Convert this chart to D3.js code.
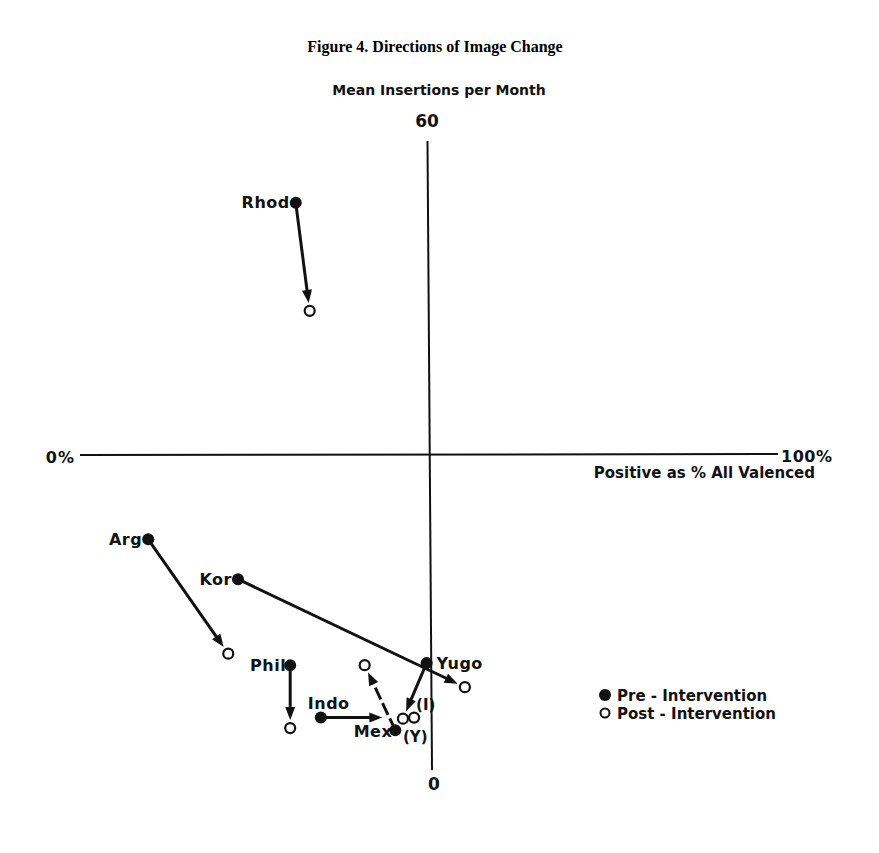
<!DOCTYPE html>
<html>
<head>
<meta charset="utf-8">
<script src="https://cdn.jsdelivr.net/npm/d3@7"></script>
<style>
  html, body { margin: 0; padding: 0; background: #fff; }
  svg { display: block; }
  .lbl { font-family: "DejaVu Sans", sans-serif; font-weight: bold; fill: #111; }
</style>
</head>
<body>
<svg id="chart" width="879" height="853"></svg>
<script>
// ---- data ----
const countries = ["Rhod", "Arg", "Kor", "Phil", "Indo", "Mex", "Yugo"];
const preX  = [31.0,  9.8, 22.7, 30.2, 34.6, 45.3, 49.8];
const preY  = [54.1, 22.0, 18.2, 10.0,  5.0,  3.8, 10.2];
const postX = [33.0, 21.3, 55.3, 30.2, 48.0, 40.9, 46.4];
const postY = [43.8, 11.1,  7.9,  4.0,  5.0, 10.0,  4.9];
const dashedMove = [false, false, false, false, false, true, false];
const arrowStopFrac = [1, 1, 1, 1, 0.66, 1, 1];   // Indo arrow stops short of its circle
const postTags = ["", "", "", "", "(I)", "", "(Y)"];
const xDomain = [0, 100];
const yDomain = [0, 60];
const xTickLabels = ["0%", "100%"];
const yTickLabels = ["0", "60"];
const titleText = "Figure 4. Directions of Image Change";
const yTitle = "Mean Insertions per Month";
const xTitle = "Positive as % All Valenced";
const legendItems = ["Pre - Intervention", "Post - Intervention"];

// ---- layout (styles, not data) ----
const labelLayout = {
  Rhod: {dx: -6, dy: 5, anchor: "end"},
  Arg:  {dx: -6, dy: 6, anchor: "end"},
  Kor:  {dx: -6, dy: 6, anchor: "end"},
  Phil: {dx: -4, dy: 6, anchor: "end"},
  Indo: {dx: -13, dy: -9, anchor: "start"},
  Mex:  {dx: -3, dy: 7, anchor: "end"},
  Yugo: {dx: 10, dy: 6, anchor: "start"}
};
const tagLayout = {
  Indo: {dx: 2, dy: -8},
  Yugo: {dx: 0, dy: 23}
};

const svg = d3.select("#chart");
const x = d3.scaleLinear().domain(xDomain).range([80, 776]);
const y = d3.scaleLinear().domain(yDomain).range([770, 141]);

// title
svg.append("text")
  .attr("x", 435).attr("y", 52)
  .attr("text-anchor", "middle")
  .style("font-family", "'Liberation Serif', 'Times New Roman', serif")
  .style("font-weight", "bold")
  .style("font-size", "16px")
  .text(titleText);

// axes
const midX = (xDomain[0] + xDomain[1]) / 2;
const midY = (yDomain[0] + yDomain[1]) / 2;
svg.append("line")
  .attr("x1", x(xDomain[0])).attr("x2", x(xDomain[1]) + 2)
  .attr("y1", y(midY) - 0.5).attr("y2", y(midY) - 1.5)
  .attr("stroke", "#111").attr("stroke-width", 2);
svg.append("line")
  .attr("x1", x(midX) - 0.5).attr("x2", x(midX) + 4)
  .attr("y1", y(yDomain[1])).attr("y2", y(yDomain[0]))
  .attr("stroke", "#111").attr("stroke-width", 2);

// axis end labels
svg.append("text").attr("class", "lbl")
  .attr("x", x(xDomain[0]) - 5).attr("y", y(midY) + 7)
  .attr("text-anchor", "end").style("font-size", "16px")
  .style("letter-spacing", "1px")
  .text(xTickLabels[0]);
svg.append("text").attr("class", "lbl")
  .attr("x", x(xDomain[1]) + 5).attr("y", y(midY) + 6)
  .attr("text-anchor", "start").style("font-size", "16px")
  .style("letter-spacing", "0.5px")
  .text(xTickLabels[1]);
svg.append("text").attr("class", "lbl")
  .attr("x", x(xDomain[1]) + 39).attr("y", y(midY) + 22)
  .attr("text-anchor", "end").style("font-size", "15px")
  .text(xTitle);
svg.append("text").attr("class", "lbl")
  .attr("x", x(midX) - 1).attr("y", y(yDomain[1]) - 14)
  .attr("text-anchor", "middle").style("font-size", "17px")
  .text(yTickLabels[1]);
svg.append("text").attr("class", "lbl")
  .attr("x", x(midX) + 6).attr("y", y(yDomain[0]) + 20)
  .attr("text-anchor", "middle").style("font-size", "17px")
  .text(yTickLabels[0]);
svg.append("text").attr("class", "lbl")
  .attr("x", 439).attr("y", y(yDomain[1]) - 46)
  .attr("text-anchor", "middle").style("font-size", "14px")
  .text(yTitle);

// movements
const data = countries.map((c, i) => ({
  name: c, x0: preX[i], y0: preY[i], x1: postX[i], y1: postY[i],
  dashed: dashedMove[i], stop: arrowStopFrac[i], tag: postTags[i]
}));

const gMoves = svg.append("g");
data.forEach(d => {
  const px0 = x(d.x0), py0 = y(d.y0), px1 = x(d.x1), py1 = y(d.y1);
  const dx = px1 - px0, dy = py1 - py0;
  const len = Math.hypot(dx, dy);
  const ux = dx / len, uy = dy / len;
  const tipDist = d.stop < 1 ? len * d.stop : len - 8;
  const tx = px0 + ux * tipDist, ty = py0 + uy * tipDist;
  const headLen = 13, headHalf = 5;
  const bx = tx - ux * headLen, by = ty - uy * headLen;
  gMoves.append("line")
    .attr("x1", px0).attr("y1", py0).attr("x2", bx + ux * 2).attr("y2", by + uy * 2)
    .attr("stroke", "#111").attr("stroke-width", 3)
    .attr("stroke-dasharray", d.dashed ? "13,4" : null);
  gMoves.append("path")
    .attr("d", `M${tx},${ty}L${bx - uy * headHalf},${by + ux * headHalf}L${bx + uy * headHalf},${by - ux * headHalf}Z`)
    .attr("fill", "#111");
});

// post circles
svg.append("g").selectAll("circle").data(data).join("circle")
  .attr("cx", d => x(d.x1)).attr("cy", d => y(d.y1))
  .attr("r", 5).attr("fill", "#fff")
  .attr("stroke", "#111").attr("stroke-width", 2.2);

// pre dots
svg.append("g").selectAll("circle").data(data).join("circle")
  .attr("cx", d => x(d.x0)).attr("cy", d => y(d.y0))
  .attr("r", 6).attr("fill", "#111");

// labels
svg.append("g").selectAll("text").data(data).join("text")
  .attr("class", "lbl")
  .attr("x", d => x(d.x0) + labelLayout[d.name].dx)
  .attr("y", d => y(d.y0) + labelLayout[d.name].dy)
  .attr("text-anchor", d => labelLayout[d.name].anchor)
  .style("font-size", "16px")
  .style("letter-spacing", "0.5px")
  .text(d => d.name);

svg.append("g").selectAll("text").data(data.filter(d => d.tag)).join("text")
  .attr("class", "lbl")
  .attr("x", d => x(d.x1) + tagLayout[d.name].dx)
  .attr("y", d => y(d.y1) + tagLayout[d.name].dy)
  .style("font-size", "15px")
  .text(d => d.tag);

// legend
const leg = svg.append("g").attr("transform", "translate(605,695)");
legendItems.forEach((t, i) => {
  const gy = i * 18;
  leg.append("circle").attr("cx", 0).attr("cy", gy)
    .attr("r", i === 0 ? 6 : 4.5)
    .attr("fill", i === 0 ? "#111" : "#fff")
    .attr("stroke", "#111").attr("stroke-width", i === 0 ? 0 : 2);
  leg.append("text").attr("class", "lbl")
    .attr("x", 12).attr("y", gy + 5.5)
    .style("font-size", "15px")
    .text(t);
});
</script>
</body>
</html>
